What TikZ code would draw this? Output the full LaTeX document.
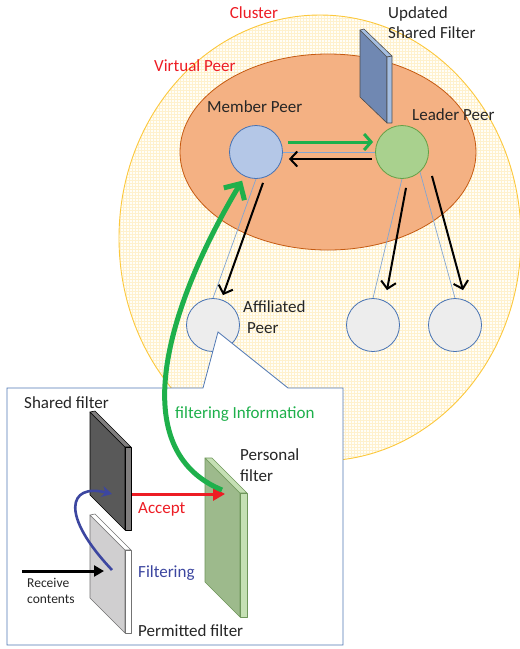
\documentclass[tikz,border=0pt]{standalone}
\usepackage{fontspec}
\setmainfont{Carlito}
\usetikzlibrary{arrows.meta}
\definecolor{clusterfill}{RGB}{255,254,248}
\definecolor{clustergrid}{RGB}{255,241,205}
\definecolor{clusterborder}{RGB}{252,200,60}
\definecolor{vpfill}{RGB}{244,177,131}
\definecolor{vpborder}{RGB}{197,90,17}
\definecolor{memfill}{RGB}{180,199,231}
\definecolor{nodeborder}{RGB}{70,114,180}
\definecolor{leadfill}{RGB}{169,209,142}
\definecolor{leadborder}{RGB}{100,160,70}
\definecolor{afffill}{RGB}{237,237,237}
\definecolor{linkblue}{RGB}{130,165,210}
\definecolor{mygreen}{RGB}{30,176,75}
\definecolor{myred}{RGB}{237,28,36}
\definecolor{myblue}{RGB}{60,70,160}
\definecolor{txt}{RGB}{38,38,38}
\definecolor{usffront}{RGB}{112,136,178}
\definecolor{usfside}{RGB}{165,190,225}
\definecolor{sffront}{RGB}{89,89,89}
\definecolor{sfside}{RGB}{128,126,126}
\definecolor{pmfront}{RGB}{208,207,208}
\definecolor{pfront}{RGB}{157,186,140}
\definecolor{pside}{RGB}{197,224,180}
\definecolor{pborder}{RGB}{110,150,90}
\definecolor{calloutborder}{RGB}{80,120,180}
\begin{document}
\begin{tikzpicture}[x=1pt,y=-1pt,
  lab/.style={font=\fontsize{17}{20}\selectfont, inner sep=0pt, text=txt, anchor=base west},
  smalllab/.style={font=\fontsize{13.5}{16}\selectfont, inner sep=0pt, text=txt, anchor=base west},
  peer/.style={circle, minimum size=53pt, inner sep=0pt, line width=0.8pt},
  link/.style={draw=linkblue, line width=0.7pt},
  blackarr/.style={draw=black, line width=2pt, -{Straight Barb[length=7pt,width=15pt,line width=2pt]}},
  slab/.style={line width=0.6pt, line join=round}
]
\useasboundingbox (0,0) rectangle (520,649);

% Cluster
\begin{scope}
  \clip (320,238) ellipse [x radius=201pt, y radius=223pt];
  \fill[clusterfill] (100,0) rectangle (530,470);
  \draw[clustergrid, line width=0.5pt, xstep=3pt, ystep=3pt] (100,0) grid (530,470);
\end{scope}
\draw[clusterborder, line width=0.9pt] (320,238) ellipse [x radius=201pt, y radius=223pt];

% Virtual peer
\draw[vpborder, fill=vpfill, line width=0.8pt] (328,152) ellipse [x radius=148pt, y radius=98pt];

% Updated shared filter
\filldraw[slab, fill=usffront, draw=black!70] (360,30) -- (387,57) -- (387,123) -- (360,97) -- cycle;
\filldraw[slab, fill=usfside, draw=black!70] (360,30) -- (364,29) -- (392,56) -- (387,57) -- cycle;
\filldraw[slab, fill=usfside, draw=black!70] (387,57) -- (392,56) -- (392,123) -- (387,123) -- cycle;

% Peers
\node[peer, draw=nodeborder, fill=memfill] (member) at (256,152) {};
\node[peer, draw=leadborder, fill=leadfill] (leader) at (402,152) {};
\node[peer, draw=nodeborder, fill=afffill] (aff1) at (213,325) {};
\node[peer, draw=nodeborder, fill=afffill] (aff2) at (373,325) {};
\node[peer, draw=nodeborder, fill=afffill] (aff3) at (455,325) {};

% thin links
\draw[link] (member.east) -- (leader.west);
\draw[link] (member.south) -- (aff1.north);
\draw[link] (leader.south) -- (aff2.north);
\draw[link] (leader.-48) -- (aff3.north);

% arrows between member and leader
\draw[mygreen, line width=3pt, -{Straight Barb[length=7pt,width=16pt,line width=3pt]}]
  ([xshift=5pt,yshift=10pt]member.east) -- ([xshift=-2pt,yshift=10pt]leader.west);
\draw[blackarr] ([xshift=-3pt,yshift=-7pt]leader.west) -- ([xshift=6pt,yshift=-7pt]member.east);

% down arrows
\draw[blackarr] ([xshift=7pt,yshift=-4pt]member.south) -- ([xshift=10pt,yshift=3pt]aff1.north);
\draw[blackarr] ([xshift=4pt,yshift=-9pt]leader.south) -- ([xshift=14pt,yshift=8pt]aff2.north);
\draw[blackarr] ([xshift=12pt,yshift=-4pt]leader.-48) -- ([xshift=8pt,yshift=8pt]aff3.north);

% labels top
\node[lab, text=myred, anchor=base] (lcluster) at (254,18) {Cluster};
\node[lab] (lusf1) at (388,18.5) {Updated};
\node[lab] (lusf2) at (388,38.5) {Shared Filter};
\node[lab, text=myred] (lvp) at (154,71) {Virtual Peer};
\node[lab] (lmem) at (207,112) {Member Peer};
\node[lab] (llead) at (412,120) {Leader Peer};
\node[lab] (laff1) at (243,312) {Affiliated};
\node[lab] (laff2) at (247,333) {Peer};

% callout box
\filldraw[draw=calloutborder, fill=white, line width=0.8pt, line join=miter]
  (7,388) -- (203,388) -- (218,332) -- (288,388) -- (343,388) -- (343,645) -- (7,645) -- cycle;

% Shared filter (dark)
\filldraw[slab, fill=sffront, draw=black] (90,412) -- (125,447) -- (125,530) -- (90,495) -- cycle;
\filldraw[slab, fill=sfside, draw=black] (90,412) -- (95,411) -- (131,447) -- (125,447) -- cycle;
\filldraw[slab, fill=sfside, draw=black] (125,447) -- (131,447) -- (131,530) -- (125,530) -- cycle;

% Permitted filter
\filldraw[slab, fill=pmfront, draw=black!55] (90,515) -- (125,550) -- (125,633) -- (90,598) -- cycle;
\filldraw[slab, fill=white, draw=black!55] (90,515) -- (95,514) -- (131,550) -- (125,550) -- cycle;
\filldraw[slab, fill=white, draw=black!55] (125,550) -- (131,550) -- (131,633) -- (125,633) -- cycle;

% Personal filter
\filldraw[slab, fill=pfront, draw=pborder] (205,458) -- (240,493) -- (240,617) -- (205,582) -- cycle;
\filldraw[slab, fill=pside, draw=pborder] (205,458) -- (212,458) -- (247,493) -- (240,493) -- cycle;
\filldraw[slab, fill=pside, draw=pborder] (240,493) -- (247,493) -- (247,617) -- (240,617) -- cycle;

\coordinate (sfout) at (132,494);
\coordinate (pfin) at (225,494);
\coordinate (pfstart) at (222,490);
\coordinate (recvstart) at (22,571);
\coordinate (recvend) at (104,571);
\coordinate (blstart) at (112,570);
\coordinate (blend) at (112,494);

% Accept arrow
\draw[myred, line width=3pt, -{Triangle[length=12pt,width=13pt]}] (sfout) -- (pfin);
% Receive arrow
\draw[black, line width=3pt, -{Triangle[length=10pt,width=11pt]}] (recvstart) -- (recvend);
% Filtering arrow
\draw[myblue, line width=2.6pt, -{Stealth[length=10pt,width=11pt]}]
  (blstart) .. controls (60,515) and (68,483) .. (blend);

% labels in callout
\node[lab] (lsf) at (24,408) {Shared filter};
\node[lab] (lpf1) at (240,460) {Personal};
\node[lab] (lpf2) at (240,481) {filter};
\node[lab, text=myred] (lacc) at (138,513) {Accept};
\node[lab, text=myblue] (lfilt) at (138,577) {Filtering};
\node[smalllab] (lrc1) at (27,587) {Receive};
\node[smalllab] (lrc2) at (27,603) {contents};
\node[lab] (lperm) at (138,636) {Permitted filter};
\node[lab, text=mygreen] (lfi) at (175,418) {filtering Information};

% Big green arrow
\draw[mygreen, line width=5pt, shorten >=5pt, -{Straight Barb[length=12pt,width=24pt,line width=5pt]}]
  (pfstart) .. controls (125,450) and (165,310) .. (member.245);
\end{tikzpicture}
\end{document}
